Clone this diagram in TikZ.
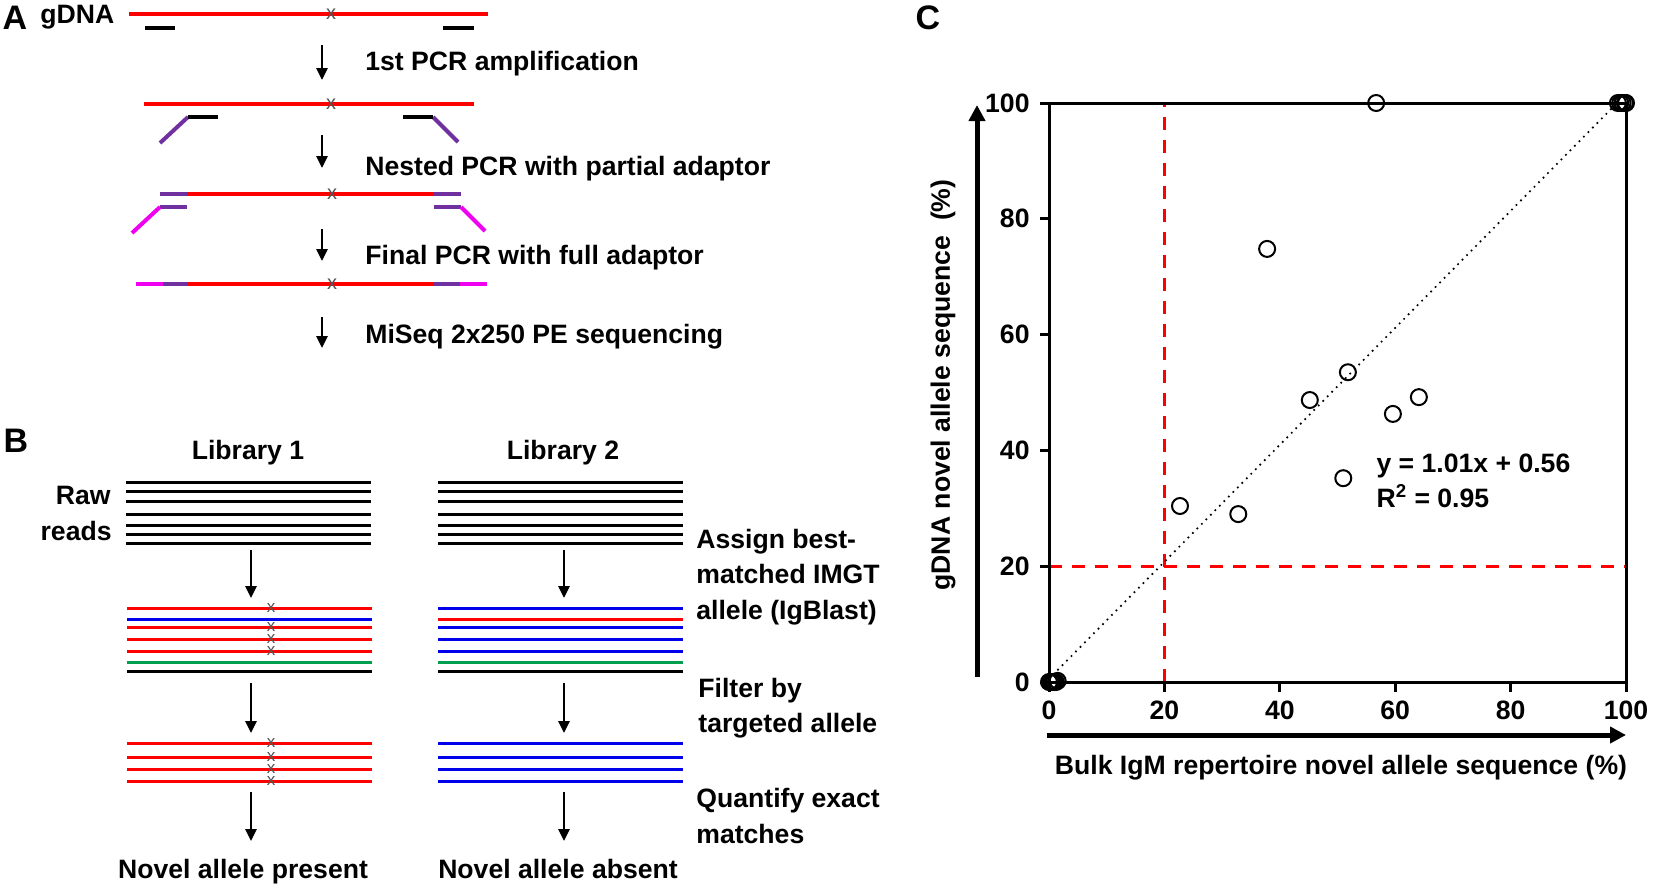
\documentclass[tikz,border=0pt]{standalone}
\usepackage{fontspec}
\setmainfont{Liberation Sans}
\usepackage{tikz}
\usetikzlibrary{arrows.meta}

\definecolor{dnared}{RGB}{255,0,0}
\definecolor{innerpurple}{RGB}{112,48,160}
\definecolor{outermag}{RGB}{240,0,240}
\definecolor{readblue}{RGB}{0,0,235}
\definecolor{readgreen}{RGB}{0,160,80}
\definecolor{markgrey}{RGB}{85,85,85}

\tikzset{
  lab/.style={font=\fontsize{13.3}{17.7}\selectfont\bfseries, inner sep=0pt},
  panel/.style={font=\fontsize{17}{19}\selectfont\bfseries, inner sep=0pt},
  dna/.style={line width=2pt},
  read/.style={line width=1.5pt},
  snp/.style={font=\fontsize{10}{10}\selectfont, text=markgrey, inner sep=0pt},
  snpsmall/.style={snp, font=\fontsize{8.5}{8.5}\selectfont},
  steparrow/.style={-{Triangle[length=6pt,width=5.5pt]}, line width=1.4pt},
  bigarrow/.style={-{Triangle[length=8pt,width=8pt]}, line width=2.5pt},
  axisline/.style={line width=1.5pt},
  cutoff/.style={dnared, line width=1.5pt, dash pattern=on 6.5pt off 5pt},
  fitline/.style={line width=1.2pt, line cap=round, dash pattern=on 0pt off 3.2pt},
  datum/.style={line width=1pt}
}

\begin{document}
\begin{tikzpicture}[x=0.5pt, y=-0.5pt]
	\useasboundingbox (0,0) rectangle (1654,890);

	% A: amplicon construction
	\node[panel] (labA) at (15,18) {A};
	\node[lab, anchor=west] (gdna) at (40,17) {gDNA};
	\draw[dna, dnared] (129,14) -- (488,14);
	\node[snp] (xa1) at (331,14) {x};
	\draw[dna] (145,28) -- (175,28) (443,28) -- (474,28);

	\draw[dna, dnared] (144,104) -- (474,104);
	\node[snp] (xa2) at (331,104) {x};
	\draw[dna, innerpurple] (160,143) -- (188,117) (433,117) -- (458,142);
	\draw[dna] (188,117) -- (218,117) (403,117) -- (433,117);

	\draw[dna, innerpurple] (160,194) -- (187,194) (433,194) -- (461,194);
	\draw[dna, dnared] (187,194) -- (433,194);
	\node[snp] (xa3) at (332,194) {x};
	\draw[dna, innerpurple] (160,207) -- (187,207) (434,207) -- (461,207);
	\draw[dna, outermag] (132,233) -- (160,207) (461,207) -- (485,231);

	\draw[dna, outermag] (136,284) -- (163,284) (460,284) -- (487,284);
	\draw[dna, innerpurple] (163,284) -- (188,284) (433,284) -- (460,284);
	\draw[dna, dnared] (188,284) -- (433,284);
	\node[snp] (xa4) at (332,284) {x};

	\foreach \ys/\ye/\ty/\txt [count=\i] in {45/80/64/1st PCR amplification, 135/168/169/Nested PCR with partial adaptor, 229/261/258/Final PCR with full adaptor, 317/348/337/MiSeq 2x250 PE sequencing}{
		\coordinate (s\i top) at (322,\ys);
		\coordinate (s\i bot) at (322,\ye);
		\draw[steparrow] (s\i top) -- (s\i bot);
		\node[lab, anchor=west] (step\i) at (365,\ty) {\txt};
	}

	% B: read filtering
	\node[panel] (labB) at (16,441) {B};
	\node[lab] (lib1) at (248,453) {Library 1};
	\node[lab] (lib2) at (563,453) {Library 2};
	\node[lab, anchor=east] (raw) at (111,495) {Raw};
	\node[lab, anchor=east] (reads) at (112,531) {reads};
	\foreach \y in {482,491,501,514,525,534,543}
		\draw[read] (126,\y) -- (371,\y) (438,\y) -- (683,\y);
	\foreach \y/\ca/\cb in {608/dnared/readblue, 619/readblue/dnared, 627/dnared/readblue, 639/dnared/readblue, 651/dnared/readblue, 662/readgreen/readgreen, 671/black/black}{
		\draw[read, \ca] (127,\y) -- (372,\y);
		\draw[read, \cb] (438,\y) -- (683,\y);
	}
	\foreach \y [count=\i] in {608,627,639,651}
		\node[snpsmall] (xb\i) at (271,\y) {x};
	\foreach \y [count=\i] in {743,757,769,781}{
		\draw[read, dnared] (127,\y) -- (372,\y);
		\draw[read, readblue] (438,\y) -- (683,\y);
		\node[snpsmall] (xc\i) at (271,\y) {x};
	}
	\foreach \ys/\ye [count=\i] in {550/598, 683/733, 792/841}{
		\coordinate (p\i top) at (251,\ys);
		\coordinate (p\i bot) at (251,\ye);
		\coordinate (q\i top) at (564,\ys);
		\coordinate (q\i bot) at (564,\ye);
		\draw[steparrow] (p\i top) -- (p\i bot);
		\draw[steparrow] (q\i top) -- (q\i bot);
	}
	\node[lab, anchor=base] (present) at (243,878) {Novel allele present};
	\node[lab, anchor=base] (absent) at (558,878) {Novel allele absent};
	\node[lab, anchor=west, align=left] (assign) at (696,577) {Assign best-\\matched IMGT\\allele (IgBlast)};
	\node[lab, anchor=west, align=left] (filter) at (698,708) {Filter by\\targeted allele};
	\node[lab, anchor=west, align=left] (quant) at (696,816) {Quantify exact\\matches};

	% C: correlation plot
	\node[panel] (labC) at (928,18) {C};
	\coordinate (yfoot) at (977,677);
	\coordinate (yhead) at (977,105);
	\draw[bigarrow] (yfoot) -- (yhead);
	\coordinate (xfoot) at (1047,735);
	\coordinate (xhead) at (1626,735);
	\draw[bigarrow] (xfoot) -- (xhead);
	\node[lab, rotate=90] (ytitle) at (943,385) {gDNA novel allele sequence\ \ (\%)};
	\node[lab] (xtitle) at (1341,768) {Bulk IgM repertoire novel allele sequence (\%)};

	\begin{scope}[shift={(1049,682)}, x=2.885pt, y=2.895pt]
		\draw[cutoff] (20,0) -- (20,100);
		\draw[cutoff] (0,20) -- (100,20);
		\draw[axisline] (0,0) rectangle (100,100);
		\foreach \v in {0,20,...,100}{
			\draw[axisline] (-1.6,\v) -- (0,\v);
			\draw[axisline] (\v,0) -- (\v,-1.7);
			\node[lab, anchor=east] (yt\v) at (-3.3,\v) {\v};
			\node[lab] (xt\v) at (\v,-4.9) {\v};
		}
		\draw[fitline] (0,0.56) -- (98.45,100);
		\foreach \px/\py in {0/0, 0.3/0, 0.6/0, 0.9/0, 1.2/0, 1.5/0.2, 22.7/30.4, 32.8/29.0, 37.8/74.8, 45.2/48.7, 51.0/35.2, 51.8/53.5, 56.7/100, 59.6/46.3, 64.1/49.2, 98.6/100, 99.0/100, 99.4/100, 99.8/100, 100/100}
			\draw[datum] (\px,\py) circle[radius=4pt];
		\node[lab, anchor=west, align=left] (eqn) at (56.7,34.7) {y = 1.01x + 0.56\\R\textsuperscript{2} = 0.95};
	\end{scope}
\end{tikzpicture}
\end{document}
